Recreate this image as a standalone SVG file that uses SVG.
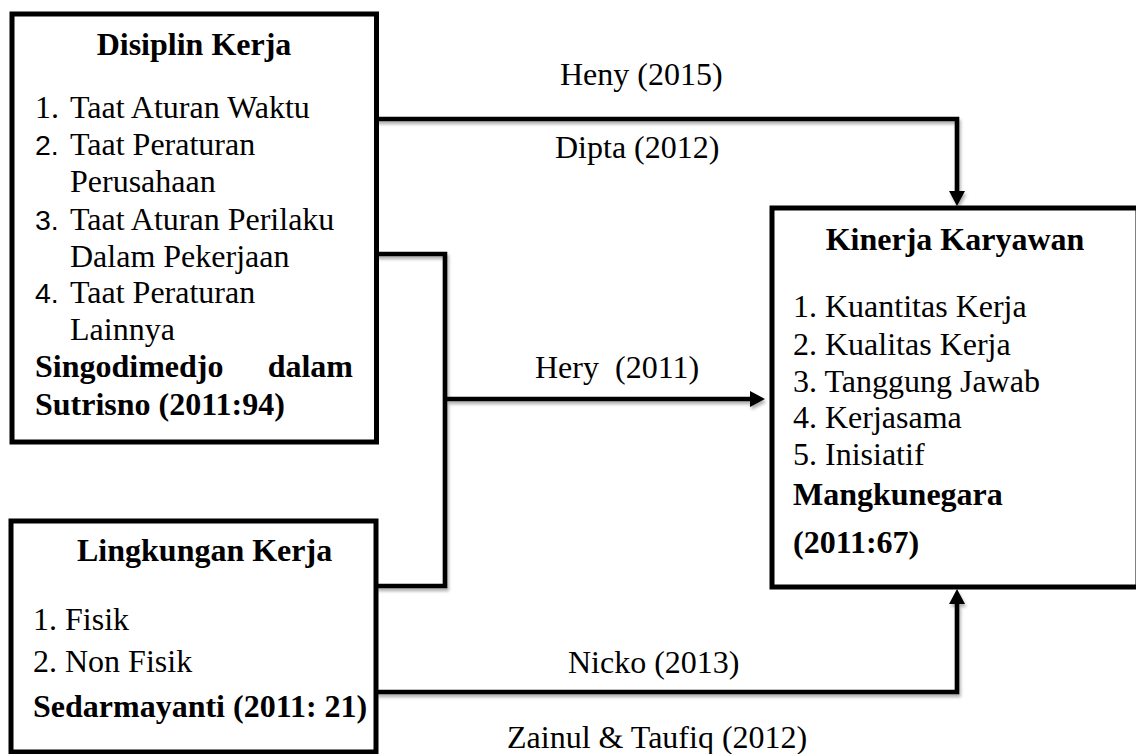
<svg xmlns="http://www.w3.org/2000/svg" width="1136" height="754" viewBox="0 0 1136 754">
  <style>
    .box { fill: #ffffff; stroke: #000000; stroke-width: 5; }
    .t { font-family: "Liberation Serif", "Times New Roman", serif; font-size: 32px; fill: #000000; }
    .b { font-weight: bold; }
    .n { font-family: "Liberation Sans", Arial, sans-serif; font-size: 28.5px; fill: #000000; }
    .conn { fill: none; stroke: #000000; stroke-width: 4.6; stroke-linejoin: miter; }
  </style>
  <defs>
    <marker id="arrow" markerUnits="userSpaceOnUse" markerWidth="15" markerHeight="16" refX="0" refY="8" orient="auto">
      <path d="M0,0 L15,8 L0,16 z" fill="#000000"/>
    </marker>
    <filter id="shadow" x="-5%" y="-5%" width="110%" height="120%">
      <feDropShadow dx="1.5" dy="3" stdDeviation="1.5" flood-color="#000000" flood-opacity="0.3"/>
    </filter>
  </defs>
  <rect x="0" y="0" width="1136" height="754" fill="#ffffff"/>

  <g id="connectors" filter="url(#shadow)">
    <path class="conn" d="M376,119 H957 V191" marker-end="url(#arrow)"/>
    <path class="conn" d="M376,254 H445 V586 H376"/>
    <path class="conn" d="M445,399 H750" marker-end="url(#arrow)"/>
    <path class="conn" d="M376,692 H957 V604" marker-end="url(#arrow)"/>
  </g>

  <g id="disiplin-kerja">
    <rect class="box" x="12" y="14" width="364.5" height="428"/>
    <text class="t b" x="194" y="54.5" text-anchor="middle">Disiplin Kerja</text>
    <text class="t" x="35" y="118">1.</text>
    <text class="t" x="70" y="118">Taat Aturan Waktu</text>
    <text class="n" x="35" y="155">2.</text>
    <text class="t" x="70" y="155">Taat Peraturan</text>
    <text class="t" x="70" y="192">Perusahaan</text>
    <text class="n" x="35" y="230">3.</text>
    <text class="t" x="70" y="230">Taat Aturan Perilaku</text>
    <text class="t" x="70" y="267">Dalam Pekerjaan</text>
    <text class="n" x="35" y="303">4.</text>
    <text class="t" x="70" y="303">Taat Peraturan</text>
    <text class="t" x="70" y="340">Lainnya</text>
    <text class="t b" x="35" y="377">Singodimedjo</text>
    <text class="t b" x="353" y="377" text-anchor="end">dalam</text>
    <text class="t b" x="35" y="415">Sutrisno (2011:94)</text>
  </g>

  <g id="lingkungan-kerja">
    <rect class="box" x="11" y="521" width="365" height="231"/>
    <text class="t b" x="77" y="561">Lingkungan Kerja</text>
    <text class="t" x="33" y="630">1. Fisik</text>
    <text class="t" x="33" y="672">2. Non Fisik</text>
    <text class="t b" x="33" y="717">Sedarmayanti (2011: 21)</text>
  </g>

  <g id="kinerja-karyawan">
    <rect class="box" x="772" y="208" width="366" height="379"/>
    <text class="t b" x="955" y="250" text-anchor="middle">Kinerja Karyawan</text>
    <text class="t" x="793" y="317">1. Kuantitas Kerja</text>
    <text class="t" x="793" y="355">2. Kualitas Kerja</text>
    <text class="t" x="793" y="392">3. Tanggung Jawab</text>
    <text class="t" x="793" y="428">4. Kerjasama</text>
    <text class="t" x="793" y="465">5. Inisiatif</text>
    <text class="t b" x="793" y="505">Mangkunegara</text>
    <text class="t b" x="793" y="553">(2011:67)</text>
  </g>

  <g id="labels">
    <text class="t" x="560" y="85">Heny (2015)</text>
    <text class="t" x="555" y="158">Dipta (2012)</text>
    <text class="t" x="535" y="378" xml:space="preserve">Hery  (2011)</text>
    <text class="t" x="568" y="673">Nicko (2013)</text>
    <text class="t" x="507" y="748">Zainul &amp; Taufiq (2012)</text>
  </g>
</svg>
